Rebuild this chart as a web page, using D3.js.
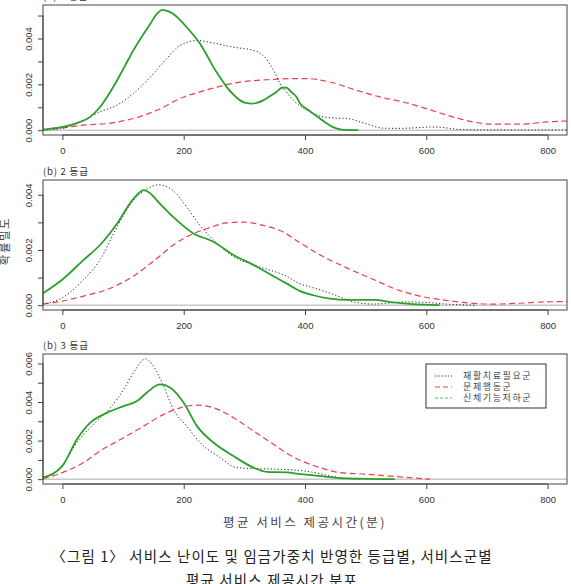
<!DOCTYPE html>
<html>
<head>
<meta charset="utf-8">
<script src="https://cdn.jsdelivr.net/npm/d3@7"></script>
<style>
  body { margin: 0; background: #fff; }
  svg { display: block; }
  .tick-label { font-family: "Liberation Sans", Arial, sans-serif; font-size: 9.5px; fill: #333; }
  .kr { font-family: "Noto Sans CJK KR", "Noto Sans", sans-serif; }
</style>
</head>
<body>
<div class="container"></div>
<script>
// series and labels
let seriesNames = ["재활치료필요군", "문제행동군", "신체기능저하군"];
let panelTitles = ["(a)  1 등급", "(b)  2 등급", "(b)  3 등급"];
let xRange = [0, 800];
let xTicks = [0, 200, 400, 600, 800];
let yTicks = [
    [0, 0.001, 0.002, 0.003, 0.004, 0.005],
    [0, 0.001, 0.002, 0.003, 0.004],
    [0, 0.001, 0.002, 0.003, 0.004, 0.005, 0.006]
];
let yLabelTicks = [
    [0, 0.002, 0.004],
    [0, 0.002, 0.004],
    [0, 0.002, 0.004, 0.006]
];

// [minutes, density]
let g1Rehab = [[-32,0],[0,0.00008],[35,0.00043],[62,0.0008],[90,0.00109],[117,0.0016],[145,0.00232],[172,0.00312],[194,0.0037],[222,0.00391],[249,0.0038],[282,0.00362],[315,0.00348],[331,0.00326],[348,0.00261],[359,0.00203],[370,0.00165],[381,0.0013],[392,0.00105],[408,0.0008],[430,0.00058],[450,0.00053],[469,0.00051],[496,0.00032],[529,0.00009],[555,0.00008],[578,0.0001],[611,0.00014],[633,0.0001],[655,0.00003],[716,0.00001],[832,0.00001]];
let g1Behav = [[-32,0.00001],[0,0.0001],[35,0.00022],[74,0.00029],[117,0.00051],[156,0.00087],[200,0.00145],[227,0.00167],[255,0.00188],[293,0.0021],[337,0.0022],[386,0.00225],[403,0.00225],[441,0.0021],[485,0.00174],[523,0.00145],[562,0.00123],[600,0.00094],[644,0.00058],[677,0.00036],[710,0.00026],[754,0.00026],[798,0.00036],[832,0.0004]];
let g1Phys = [[-32,0.00002],[0,0.00014],[25,0.00032],[46,0.00058],[62,0.00101],[76,0.00155],[90,0.00217],[104,0.00285],[117,0.00348],[131,0.00408],[145,0.00464],[155,0.00505],[165,0.00525],[175,0.00518],[183,0.00507],[195,0.00478],[205,0.00449],[216,0.00415],[227,0.00377],[238,0.00328],[249,0.00275],[260,0.0023],[271,0.00188],[282,0.00155],[293,0.0013],[302,0.00119],[312,0.00116],[322,0.0012],[331,0.0013],[342,0.00148],[353,0.00167],[362,0.00185],[369,0.00186],[378,0.00165],[386,0.00145],[392,0.00116],[403,0.00092],[414,0.00072],[425,0.0005],[436,0.00029],[447,0.00012],[458,0.00004],[470,0.00001],[488,0]];

let g2Rehab = [[-32,0.00004],[0,0.00027],[35,0.00093],[62,0.00164],[90,0.00283],[117,0.00379],[139,0.0042],[158,0.00436],[183,0.00414],[205,0.00355],[227,0.00289],[255,0.00224],[282,0.00176],[315,0.00146],[348,0.00123],[370,0.00105],[390,0.00079],[414,0.00063],[447,0.00039],[480,0.00012],[513,0.00004],[540,0.00008],[567,0.00012],[600,0.0001],[633,0.00004],[682,0]];
let g2Behav = [[-32,0.00004],[0,0.00015],[35,0.00033],[74,0.00057],[117,0.00105],[156,0.0017],[183,0.00218],[205,0.00248],[238,0.00277],[271,0.00298],[298,0.00301],[331,0.00289],[364,0.00265],[392,0.00226],[425,0.00182],[469,0.00135],[513,0.00093],[551,0.00057],[589,0.00033],[622,0.00021],[660,0.0001],[710,0.00004],[754,0.00007],[798,0.00012],[832,0.00013]];
let g2Phys = [[-32,0.00043],[0,0.00093],[35,0.00164],[62,0.00218],[90,0.00295],[117,0.00385],[134,0.00417],[145,0.00405],[156,0.00379],[183,0.00319],[216,0.0026],[249,0.0023],[282,0.00182],[315,0.00146],[348,0.00105],[370,0.00078],[392,0.00051],[414,0.00036],[441,0.00024],[469,0.00019],[513,0.00019],[546,0.0001],[578,0.00004],[622,0]];

let g3Rehab = [[-32,0.00003],[0,0.00072],[24,0.0019],[51,0.00284],[79,0.0037],[101,0.00465],[117,0.00551],[137,0.00624],[150,0.00586],[167,0.00482],[183,0.00362],[205,0.00275],[227,0.0019],[260,0.00112],[287,0.0006],[315,0.00055],[348,0.00052],[392,0.00045],[415,0.00035],[436,0.0002],[469,0.00004],[491,0]];
let g3Behav = [[-32,0.00003],[0,0.00034],[35,0.00086],[62,0.00146],[101,0.00215],[134,0.00275],[167,0.00336],[194,0.0037],[222,0.00384],[249,0.0037],[282,0.00319],[315,0.0025],[348,0.00181],[375,0.00125],[392,0.00098],[425,0.0006],[458,0.00034],[502,0.00026],[535,0.00017],[568,0.00009],[606,0]];
let g3Phys = [[-32,0.00009],[0,0.00069],[24,0.00207],[46,0.00293],[74,0.00345],[101,0.00379],[123,0.00405],[139,0.00448],[161,0.00491],[178,0.00474],[200,0.00396],[222,0.00275],[249,0.0019],[282,0.0012],[315,0.0006],[337,0.00038],[370,0.00035],[392,0.00026],[414,0.0002],[469,0.00004],[548,0]];

let panelData = [
    [g1Rehab, g1Behav, g1Phys],
    [g2Rehab, g2Behav, g2Phys],
    [g3Rehab, g3Behav, g3Phys]
];

let styles = [
    { color: "#222", width: 1, dash: "1.2,2.2" },
    { color: "#e8404c", width: 1.2, dash: "6,3.5" },
    { color: "#2aa02a", width: 1.8, dash: null }
];

let svg = d3.select(".container").append("svg")
    .attr("width", 571)
    .attr("height", 584);

let left = 43, right = 567;
let panelTops = [5, 180, 354];
let panelHeight = 130;

let pad = (xRange[1] - xRange[0]) * 0.04;
let x = d3.scaleLinear()
    .domain([xRange[0] - pad, xRange[1] + pad])
    .range([left, right]);

panelData.forEach(function (curves, i) {
    let top = panelTops[i], bottom = top + panelHeight;
    let m = d3.max(curves, function (c) { return d3.max(c, function (d) { return d[1]; }); });
    let y = d3.scaleLinear()
        .domain([-0.04 * m, 1.04 * m])
        .range([bottom, top]);

    svg.append("defs").append("clipPath")
        .attr("id", "clip" + i)
        .append("rect")
        .attr("x", left).attr("y", top)
        .attr("width", right - left).attr("height", panelHeight);

    let g = svg.append("g");

    // zero line
    g.append("line")
        .attr("x1", left).attr("x2", right)
        .attr("y1", y(0)).attr("y2", y(0))
        .attr("stroke", "#c8c8c8").attr("stroke-width", 1.5);

    let line = d3.line()
        .x(function (d) { return x(d[0]); })
        .y(function (d) { return y(d[1]); })
        .curve(d3.curveMonotoneX);

    let plot = g.append("g").attr("clip-path", "url(#clip" + i + ")");
    // draw red first, then black, green on top
    [1, 0, 2].forEach(function (k) {
        plot.append("path")
            .datum(curves[k])
            .attr("d", line)
            .attr("fill", "none")
            .attr("stroke", styles[k].color)
            .attr("stroke-width", styles[k].width)
            .attr("stroke-dasharray", styles[k].dash);
    });

    // box
    g.append("rect")
        .attr("x", left).attr("y", top)
        .attr("width", right - left).attr("height", panelHeight)
        .attr("fill", "none").attr("stroke", "#444").attr("stroke-width", 1);

    // x axis
    let xAxis = d3.axisBottom(x).tickValues(xTicks).tickSize(5).tickPadding(7)
        .tickFormat(d3.format("d"));
    let xg = g.append("g")
        .attr("transform", "translate(0," + bottom + ")")
        .call(xAxis);
    xg.select(".domain").attr("d", "M" + x(xTicks[0]) + ",0H" + x(xTicks[xTicks.length - 1]))
        .attr("stroke", "#444");
    xg.selectAll(".tick line").attr("stroke", "#444");
    xg.selectAll(".tick text").attr("class", "tick-label").attr("font-size", null).attr("font-family", null);

    // y axis
    let yAxis = d3.axisLeft(y).tickValues(yTicks[i]).tickSize(5)
        .tickFormat(function (d) {
            return yLabelTicks[i].some(function (v) { return Math.abs(v - d) < 1e-9; }) ? d3.format(".3f")(d) : "";
        });
    let yg = g.append("g")
        .attr("transform", "translate(" + left + ",0)")
        .call(yAxis);
    yg.select(".domain").attr("d", "M0," + y(yTicks[i][0]) + "V" + y(yTicks[i][yTicks[i].length - 1]))
        .attr("stroke", "#444");
    yg.selectAll(".tick line").attr("stroke", "#444");
    yg.selectAll(".tick text")
        .attr("class", "tick-label")
        .attr("font-size", null).attr("font-family", null)
        .attr("x", null).attr("dy", null)
        .attr("text-anchor", "middle")
        .attr("transform", "translate(-14,0) rotate(-90)")
        .attr("dy", "0.32em");

    // panel title
    svg.append("text")
        .attr("class", "kr")
        .attr("x", left)
        .attr("y", top - 5)
        .attr("font-size", 9.5)
        .attr("fill", "#333")
        .attr("letter-spacing", 0.8)
        .text(panelTitles[i]);
});

// legend (in the third panel)
let legend = svg.append("g").attr("transform", "translate(426,364)");
legend.append("rect")
    .attr("width", 120).attr("height", 44)
    .attr("fill", "#fff").attr("stroke", "#333").attr("stroke-width", 1);
let legendDash = ["1.2,2", "5,3", "3,2"];
let legendColor = ["#222", "#e8404c", "#4cc44c"];
seriesNames.forEach(function (name, k) {
    let ly = 12 + k * 11;
    legend.append("line")
        .attr("x1", 9).attr("x2", 26)
        .attr("y1", ly).attr("y2", ly)
        .attr("stroke", legendColor[k])
        .attr("stroke-width", 1)
        .attr("stroke-dasharray", legendDash[k]);
    legend.append("text")
        .attr("class", "kr")
        .attr("x", 37).attr("y", ly)
        .attr("dy", "0.35em")
        .attr("font-size", 9)
        .attr("letter-spacing", 1.6)
        .attr("fill", "#444")
        .text(name);
});

// axis titles
svg.append("text")
    .attr("class", "kr")
    .attr("x", (left + right) / 2).attr("y", 523)
    .attr("dy", "0.35em")
    .attr("text-anchor", "middle")
    .attr("font-size", 12.5)
    .attr("letter-spacing", 2.5)
    .attr("fill", "#444")
    .text("평균 서비스 제공시간(분)");

svg.append("text")
    .attr("class", "kr")
    .attr("transform", "translate(5,241) rotate(-90)")
    .attr("text-anchor", "middle")
    .attr("dy", "0.35em")
    .attr("font-size", 11.5)
    .attr("letter-spacing", 1.5)
    .attr("fill", "#444")
    .text("확률밀도");

// caption
svg.append("text")
    .attr("class", "kr")
    .attr("x", 272).attr("y", 557)
    .attr("dy", "0.35em")
    .attr("text-anchor", "middle")
    .attr("font-size", 14.5)
    .attr("letter-spacing", 1.1)
    .attr("fill", "#222")
    .text("〈그림 1〉 서비스 난이도 및 임금가중치 반영한 등급별, 서비스군별");

svg.append("text")
    .attr("class", "kr")
    .attr("x", 272).attr("y", 581)
    .attr("dy", "0.35em")
    .attr("text-anchor", "middle")
    .attr("font-size", 14.5)
    .attr("letter-spacing", 1.1)
    .attr("fill", "#222")
    .text("평균 서비스 제공시간 분포");
</script>
</body>
</html>
